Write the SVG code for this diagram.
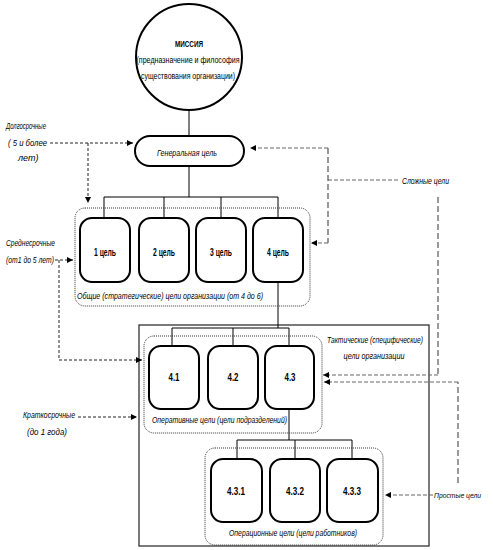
<svg xmlns="http://www.w3.org/2000/svg" width="493" height="550" viewBox="0 0 493 550">
<style>
.bg{fill:#fff}
.node{fill:#fff;stroke:#000;stroke-width:2}
.grp{fill:none;stroke:#333;stroke-width:1;stroke-dasharray:1,1}
.frame{fill:none;stroke:#333;stroke-width:1.3}
.ln{fill:none;stroke:#000;stroke-width:1}
.dl{fill:none;stroke:#222;stroke-width:1;stroke-dasharray:3,2}
.dr{fill:none;stroke:#666;stroke-width:1.2;stroke-dasharray:4,2}
.dv{fill:none;stroke:#555;stroke-width:1.2;stroke-dasharray:6,3}
text{font-family:"Liberation Sans Narrow","Liberation Sans",Arial,sans-serif;fill:#000}
.it{font-style:italic;font-size:9px}
.b{font-weight:bold;font-size:10px;text-anchor:middle}
.m{font-size:9px;text-anchor:middle}
</style>
<defs>
<marker id="ah" viewBox="0 0 6 6" refX="6" refY="3" markerWidth="6" markerHeight="6" markerUnits="userSpaceOnUse" orient="auto">
<path d="M0,0 L6,3 L0,6 Z" fill="#000"/>
</marker>
</defs>
<rect class="bg" x="0" y="0" width="493" height="550"/>

<rect id="tactical-frame" class="frame" x="139" y="325" width="290" height="221"/>

<g id="connectors">
<path class="ln" d="M189,110 V136"/>
<path class="ln" d="M189,166 V197 M104,197 H278 M104,197 V218 M164,197 V218 M221,197 V218 M278,197 V218"/>
<path class="ln" d="M278,282 V328 M172,328 H289 M172,328 V346 M233,328 V346 M289,328 V440"/>
<path class="ln" d="M237,440 H352 M237,440 V459 M295,440 V459 M352,440 V459"/>
<path class="dl" d="M50,143 H133" marker-end="url(#ah)"/>
<path class="dl" d="M88,143 V203" marker-end="url(#ah)"/>
<path class="dl" d="M55,260 H73" marker-end="url(#ah)"/>
<path class="dl" d="M59,260 V360 H142" marker-end="url(#ah)"/>
<path class="dl" d="M78,417 H137" marker-end="url(#ah)"/>
<path class="dr" d="M328,180 H400"/>
<path class="dr" d="M328,148 H250" marker-end="url(#ah)"/>
<path class="dv" d="M328,148 V243"/>
<path class="dr" d="M328,243 H311" marker-end="url(#ah)"/>
<path class="dv" d="M438,197 V375"/>
<path class="dr" d="M438,375 H323" marker-end="url(#ah)"/>
<path class="dv" d="M458,483 V382"/>
<path class="dr" d="M458,382 H324" marker-end="url(#ah)"/>
<path class="dr" d="M433,495 H385" marker-end="url(#ah)"/>
</g>

<g id="mission">
<circle cx="189" cy="57" r="53" fill="#fff" stroke="#000" stroke-width="2"/>
<text class="m" x="189" y="47" font-weight="bold" textLength="28" lengthAdjust="spacingAndGlyphs">МИССИЯ</text>
<text class="m" x="188" y="63" textLength="103" lengthAdjust="spacingAndGlyphs">(предназначение и философия</text>
<text class="m" x="188" y="79" textLength="94" lengthAdjust="spacingAndGlyphs">существования организации)</text>
</g>

<g id="general-goal">
<rect class="node" x="135" y="136" width="109" height="30" rx="15" stroke-width="1.5"/>
<text class="it" x="187" y="156" text-anchor="middle" textLength="60" lengthAdjust="spacingAndGlyphs">Генеральная цель</text>
</g>

<g id="strategic-group">
<rect class="grp" x="75" y="208" width="235" height="98" rx="10"/>
<text class="it" x="77" y="299" textLength="186" lengthAdjust="spacingAndGlyphs">Общие (стратегические) цели организации (от 4 до 6)</text>
</g>
<g id="goal-1"><rect class="node" x="80" y="218" width="50" height="64" rx="12"/><text class="b" x="105" y="256" textLength="22" lengthAdjust="spacingAndGlyphs">1 цель</text></g>
<g id="goal-2"><rect class="node" x="139" y="218" width="50" height="64" rx="12"/><text class="b" x="164" y="256" textLength="22" lengthAdjust="spacingAndGlyphs">2 цель</text></g>
<g id="goal-3"><rect class="node" x="196" y="218" width="50" height="64" rx="12"/><text class="b" x="221" y="256" textLength="22" lengthAdjust="spacingAndGlyphs">3 цель</text></g>
<g id="goal-4"><rect class="node" x="253" y="218" width="50" height="64" rx="12"/><text class="b" x="278" y="256" textLength="22" lengthAdjust="spacingAndGlyphs">4 цель</text></g>

<g id="operative-group">
<rect class="grp" x="144" y="336" width="178" height="97" rx="10"/>
<text class="it" x="152" y="423" textLength="135" lengthAdjust="spacingAndGlyphs">Оперативные цели (цели подразделений)</text>
</g>
<g id="goal-4-1"><rect class="node" x="149" y="346" width="50" height="63" rx="12"/><text class="b" x="174" y="381" textLength="11" lengthAdjust="spacingAndGlyphs">4.1</text></g>
<g id="goal-4-2"><rect class="node" x="208" y="346" width="50" height="63" rx="12"/><text class="b" x="233" y="381" textLength="11" lengthAdjust="spacingAndGlyphs">4.2</text></g>
<g id="goal-4-3"><rect class="node" x="265" y="346" width="49" height="63" rx="12"/><text class="b" x="290" y="381" textLength="11" lengthAdjust="spacingAndGlyphs">4.3</text></g>

<g id="operational-group">
<rect class="grp" x="205" y="448" width="178" height="97" rx="10"/>
<text class="it" x="293" y="536" text-anchor="middle" textLength="128" lengthAdjust="spacingAndGlyphs">Операционные цели (цели работников)</text>
</g>
<g id="goal-4-3-1"><rect class="node" x="211" y="459" width="51" height="63" rx="12"/><text class="b" x="236" y="495" textLength="18" lengthAdjust="spacingAndGlyphs">4.3.1</text></g>
<g id="goal-4-3-2"><rect class="node" x="270" y="459" width="50" height="63" rx="12"/><text class="b" x="295" y="495" textLength="18" lengthAdjust="spacingAndGlyphs">4.3.2</text></g>
<g id="goal-4-3-3"><rect class="node" x="327" y="459" width="51" height="63" rx="12"/><text class="b" x="352" y="495" textLength="18" lengthAdjust="spacingAndGlyphs">4.3.3</text></g>

<g id="labels">
<text class="it" x="375" y="343" text-anchor="middle" textLength="96" lengthAdjust="spacingAndGlyphs">Тактические (специфические)</text>
<text class="it" x="374" y="359" text-anchor="middle" textLength="61" lengthAdjust="spacingAndGlyphs">цели организации</text>
<text class="it" x="6" y="129" textLength="40" lengthAdjust="spacingAndGlyphs">Долгосрочные</text>
<text class="it" x="8" y="146" textLength="39" lengthAdjust="spacingAndGlyphs">( 5 и более</text>
<text class="it" x="18" y="161">лет)</text>
<text class="it" x="6" y="246" textLength="49" lengthAdjust="spacingAndGlyphs">Среднесрочные</text>
<text class="it" x="6" y="263" textLength="48" lengthAdjust="spacingAndGlyphs">(от1 до 5 лет)</text>
<text class="it" x="23" y="418" textLength="52" lengthAdjust="spacingAndGlyphs">Краткосрочные</text>
<text class="it" x="27" y="435" textLength="40" lengthAdjust="spacingAndGlyphs">(до 1 года)</text>
<text class="it" x="402" y="184" textLength="47" lengthAdjust="spacingAndGlyphs">Сложные цели</text>
<text class="it" x="434" y="498" font-size="8px" style="font-size:8px" textLength="47" lengthAdjust="spacingAndGlyphs">Простые цели</text>
</g>
</svg>
